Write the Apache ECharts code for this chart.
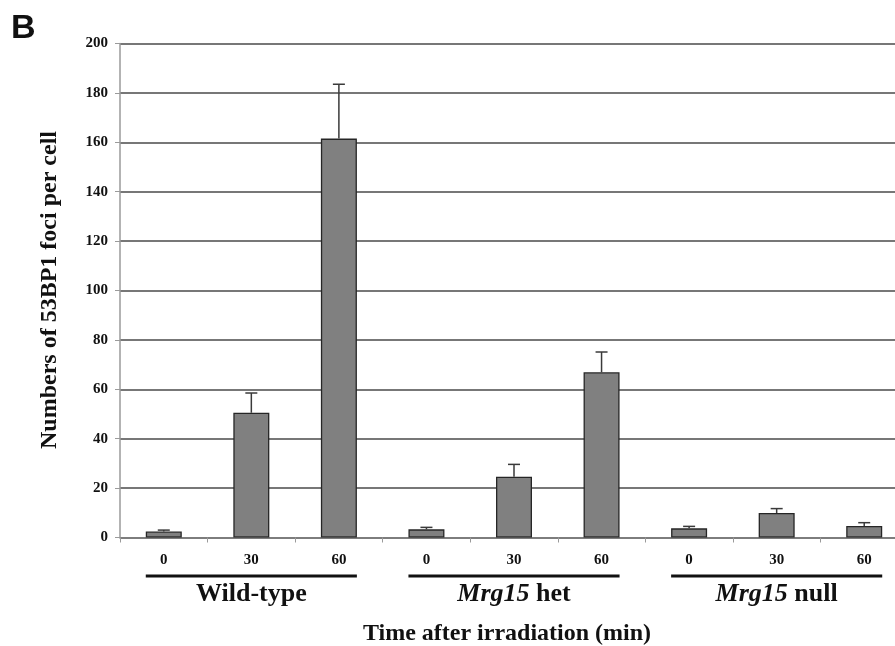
<!DOCTYPE html>
<html>
<head>
<meta charset="utf-8">
<script src="https://cdn.jsdelivr.net/npm/echarts@6/dist/echarts.min.js"></script>
<style>html,body{margin:0;padding:0;background:#fff;overflow:hidden}#c{width:910px;height:646px}</style>
</head>
<body>
<div id="c"></div>
<script>
const categories = ['0', '30', '60', '0', '30', '60', '0', '30', '60'];
const groupItalic = ['', 'Mrg15', 'Mrg15'];
const groupPlain = ['Wild-type', ' het', ' null'];
const groupStart = [0, 3, 6];
const groupEnd = [2, 5, 8];
const means = [2.4, 50.5, 161.5, 3.3, 24.6, 66.9, 3.7, 9.9, 4.7];
const upperErr = [0.6, 8.0, 22.0, 0.8, 5.0, 8.2, 0.8, 1.8, 1.3];
const yTicks = [0, 20, 40, 60, 80, 100, 120, 140, 160, 180, 200];

const SERIF = '"Liberation Serif", "Times New Roman", "DejaVu Serif", serif';
const BAR_W = 36;

const chart = echarts.init(document.getElementById('c'), null, {renderer: 'canvas'});

chart.setOption({
  animation: false,
  backgroundColor: '#ffffff',
  grid: {left: 120, top: 43.5, width: 788, height: 494, containLabel: false},
  xAxis: {
    type: 'category',
    data: categories,
    boundaryGap: true,
    axisLine: {show: true, lineStyle: {color: '#808080', width: 1.5}},
    axisTick: {show: true, interval: 0, length: 5, lineStyle: {color: '#9a9a9a', width: 1}},
    axisLabel: {interval: 0, margin: 15, fontFamily: SERIF, fontWeight: 'bold', fontSize: 15, color: '#111'}
  },
  yAxis: {
    type: 'value',
    min: yTicks[0],
    max: yTicks[yTicks.length - 1],
    interval: 20,
    axisLine: {show: true, lineStyle: {color: '#9a9a9a', width: 1.5}},
    axisTick: {show: true, length: 5, lineStyle: {color: '#9a9a9a', width: 1}},
    axisLabel: {margin: 12, fontFamily: SERIF, fontWeight: 'bold', fontSize: 15, color: '#111'},
    splitLine: {show: true, lineStyle: {color: '#4a4a4a', width: 1.5}}
  },
  series: [
    {
      type: 'bar',
      data: means,
      barWidth: BAR_W,
      itemStyle: {color: '#808080', borderColor: '#262626', borderWidth: 1.3},
      z: 2
    },
    {
      type: 'custom',
      data: means.map((m, i) => [i, m, upperErr[i]]),
      encode: {x: 0, y: 1},
      z: 3,
      renderItem: function (params, api) {
        const x = api.value(0), m = api.value(1), e = api.value(2);
        const b = api.coord([x, m]);
        const t = api.coord([x, m + e]);
        const hw = 6;
        const st = {stroke: '#3a3a3a', lineWidth: 1.5};
        return {
          type: 'group',
          children: [
            {type: 'line', shape: {x1: b[0], y1: b[1], x2: t[0], y2: t[1]}, style: st},
            {type: 'line', shape: {x1: t[0] - hw, y1: t[1], x2: t[0] + hw, y2: t[1]}, style: st}
          ]
        };
      }
    }
  ]
});

const graphics = [];
for (let g = 0; g < groupStart.length; g++) {
  const x1 = chart.convertToPixel({xAxisIndex: 0}, groupStart[g]) - BAR_W / 2;
  const x2 = chart.convertToPixel({xAxisIndex: 0}, groupEnd[g]) + BAR_W / 2;
  const cx = (x1 + x2) / 2;
  graphics.push({type: 'rect', shape: {x: x1, y: 574.5, width: x2 - x1, height: 3}, style: {fill: '#111'}});
  graphics.push({
    type: 'text', x: cx, y: 594,
    style: {
      text: (groupItalic[g] ? '{i|' + groupItalic[g] + '}' : '') + '{n|' + groupPlain[g] + '}',
      align: 'center', verticalAlign: 'middle',
      rich: {
        i: {fontFamily: SERIF, fontStyle: 'italic', fontWeight: 'bold', fontSize: 26, fill: '#111'},
        n: {fontFamily: SERIF, fontWeight: 'bold', fontSize: 26, fill: '#111'}
      }
    }
  });
}
graphics.push({type: 'text', x: 507, y: 634, style: {text: 'Time after irradiation (min)', font: 'bold 24px ' + SERIF, fill: '#111', align: 'center', verticalAlign: 'middle'}});
graphics.push({type: 'text', x: 50, y: 290, rotation: Math.PI / 2, style: {text: 'Numbers of 53BP1 foci per cell', font: 'bold 24px ' + SERIF, fill: '#111', align: 'center', verticalAlign: 'middle'}});
graphics.push({type: 'text', x: 11, y: 29, style: {text: 'B', font: 'bold 34px "Liberation Sans", Arial, sans-serif', fill: '#111', align: 'left', verticalAlign: 'middle'}});

chart.setOption({graphic: graphics});
</script>
</body>
</html>
